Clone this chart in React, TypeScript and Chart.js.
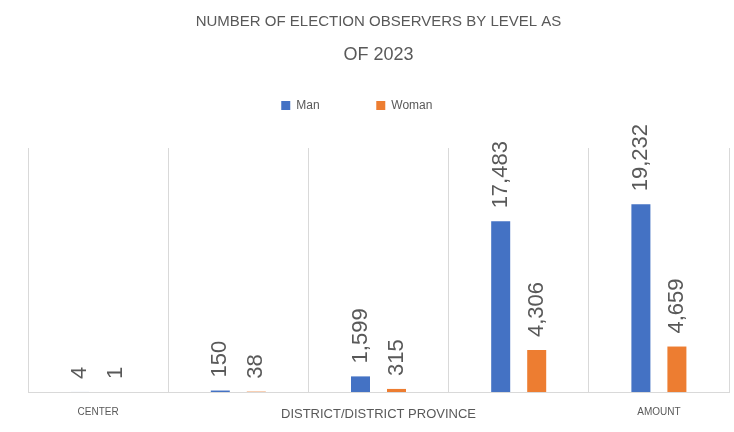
import React, { useEffect, useRef } from 'react';
import { Chart, registerables, layouts } from 'chart.js';

Chart.register(...registerables);

// ---- data ----
const categories: string[] = ['CENTER', '', 'DISTRICT/DISTRICT PROVINCE', '', 'AMOUNT'];
const manValues: number[] = [4, 150, 1599, 17483, 19232];
const womanValues: number[] = [1, 38, 315, 4306, 4659];
const seriesNames: string[] = ['Man', 'Woman'];
const titleLine1 = 'NUMBER OF ELECTION OBSERVERS BY LEVEL AS';
const titleLine2 = 'OF 2023';
const yMin = 0;
const yMax = 25000;

const TEXT = '#595959';
const BLUE = '#4472C4';
const ORANGE = '#ED7D31';
const GRID = '#d9d9d9';
const FONT = '"Liberation Sans", Arial, sans-serif';
const NBSP = '\u00a0';

const spacerPlugin = {
  id: 'spacerBox',
  beforeInit(chart: any) {
    const box: any = {
      id: 'spacer',
      position: 'top',
      weight: 500,
      fullSize: true,
      options: {},
      left: 0,
      top: 0,
      right: 0,
      bottom: 0,
      width: 0,
      height: 0,
      isHorizontal() {
        return true;
      },
      update(maxWidth: number) {
        this.width = maxWidth;
        this.height = 26.4;
      },
      draw() {},
    };
    layouts.addBox(chart, box);
  },
};

const valueLabelPlugin = {
  id: 'valueLabels',
  afterDatasetsDraw(chart: any) {
    const ctx = chart.ctx as CanvasRenderingContext2D;
    ctx.save();
    ctx.fillStyle = TEXT;
    ctx.font = `22px ${FONT}`;
    ctx.textAlign = 'left';
    ctx.textBaseline = 'middle';
    chart.data.datasets.forEach((ds: any, di: number) => {
      const meta = chart.getDatasetMeta(di);
      meta.data.forEach((el: any, i: number) => {
        const v = ds.data[i] as number;
        ctx.save();
        ctx.translate(el.x, el.y - 13);
        ctx.rotate(-Math.PI / 2);
        ctx.fillText(v.toLocaleString('en-US'), 0, 0);
        ctx.restore();
      });
    });
    ctx.restore();
  },
};

export default function App() {
  const ref = useRef<HTMLCanvasElement | null>(null);

  useEffect(() => {
    if (!ref.current) return;
    Chart.defaults.font.family = FONT;
    const chart = new Chart(ref.current, {
      type: 'bar',
      data: {
        labels: categories,
        datasets: [
          { label: seriesNames[0], data: manValues, backgroundColor: BLUE, borderWidth: 0 },
          { label: seriesNames[1], data: womanValues, backgroundColor: ORANGE, borderWidth: 0 },
        ],
      },
      options: {
        responsive: false,
        animation: false,
        events: [],
        datasets: {
          bar: { categoryPercentage: 0.5136, barPercentage: 0.528 },
        },
        layout: { padding: { left: 28, right: 5, top: 0, bottom: 0 } },
        plugins: {
          title: {
            display: true,
            text: titleLine1,
            color: TEXT,
            font: { size: 15, weight: 'normal', lineHeight: 1.2 },
            padding: { top: 13, bottom: 0 },
          },
          subtitle: {
            display: true,
            text: titleLine2,
            color: TEXT,
            font: { size: 18, weight: 'normal', lineHeight: 1.2 },
            padding: { top: 13, bottom: 24 },
          },
          legend: {
            display: true,
            position: 'top',
            labels: {
              boxWidth: 9,
              boxHeight: 9,
              padding: 10,
              color: TEXT,
              font: { size: 12 },
              generateLabels: (c: any) => {
                const items = (Chart.defaults.plugins.legend.labels as any).generateLabels(c);
                items.forEach((it: any, i: number) => {
                  it.text = it.text + NBSP.repeat(i === 0 ? 14 : 13);
                });
                return items;
              },
            },
          },
          tooltip: { enabled: false },
        },
        scales: {
          x: {
            grid: { display: true, offset: true, color: GRID, drawTicks: false, lineWidth: 1 },
            border: { display: true, color: GRID },
            ticks: {
              color: TEXT,
              autoSkip: false,
              maxRotation: 0,
              minRotation: 0,
              padding: 14.5,
              font: (c: any) => ({ size: c.index === 2 ? 13 : 10 }),
            },
            afterFit: (scale: any) => {
              scale.height = 40;
            },
          },
          y: { display: false, min: yMin, max: yMax },
        },
      },
      plugins: [spacerPlugin, valueLabelPlugin],
    } as any);
    return () => chart.destroy();
  }, []);

  return (
    <div style={{ position: 'fixed', left: 0, top: 0, width: 734, height: 432, background: '#fff' }}>
      <canvas ref={ref} width={734} height={432} style={{ display: 'block' }} />
    </div>
  );
}
